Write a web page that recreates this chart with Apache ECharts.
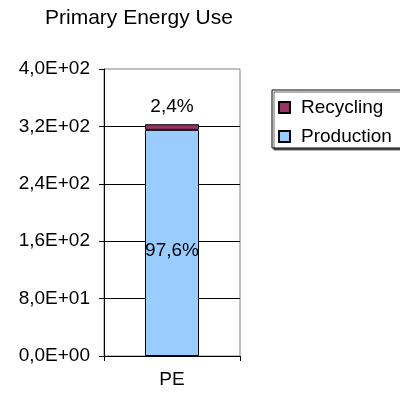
<!DOCTYPE html>
<html>
<head>
<meta charset="utf-8">
<script src="https://cdn.jsdelivr.net/npm/echarts@6/dist/echarts.min.js"></script>
<style>
  html, body { margin: 0; padding: 0; background: #fff; }
  #chart { width: 400px; height: 399px; }
</style>
</head>
<body>
<div id="chart"></div>
<script>
// Primary energy use of PE, split into production and recycling
const categories = ['PE'];
const production = [315.2];
const recycling = [7.8];
const yTickLabels = ['0,0E+00', '8,0E+01', '1,6E+02', '2,4E+02', '3,2E+02', '4,0E+02'];

const totals = production.map((v, i) => v + recycling[i]);
const pct = (v, i) => (v / totals[i] * 100).toFixed(1).replace('.', ',') + '%';

const FONT = "'Liberation Sans', Arial, sans-serif";
const chart = echarts.init(document.getElementById('chart'), null, { renderer: 'canvas' });

chart.setOption({
  animation: false,
  backgroundColor: '#ffffff',
  textStyle: { fontFamily: FONT, color: '#000' },
  title: {
    text: 'Primary Energy Use',
    left: 45,
    top: 8,
    padding: 0,
    textStyle: { fontFamily: FONT, fontSize: 21, fontWeight: 'normal', color: '#000' }
  },
  legend: {
    orient: 'vertical',
    left: 272,
    top: 90,
    data: ['Recycling', 'Production'],
    icon: 'rect',
    itemWidth: 11,
    itemHeight: 11,
    itemGap: 10,
    padding: [8, 12, 2, 6],
    borderColor: '#000',
    borderWidth: 1,
    backgroundColor: '#fff',
    shadowColor: 'rgba(0,0,0,0.6)',
    shadowOffsetX: 2,
    shadowOffsetY: 2,
    shadowBlur: 0,
    textStyle: { fontFamily: FONT, fontSize: 19, color: '#000', padding: [0, 0, 0, 6] }
  },
  grid: {
    left: 104,
    right: 160,
    top: 69,
    bottom: 43,
    show: true,
    borderColor: '#808080',
    borderWidth: 1,
    backgroundColor: 'transparent'
  },
  xAxis: {
    type: 'category',
    data: categories,
    boundaryGap: true,
    axisLine: { lineStyle: { color: '#000', width: 1 } },
    axisTick: { show: true, alignWithLabel: false, length: 5, lineStyle: { color: '#000' } },
    axisLabel: { fontFamily: FONT, fontSize: 19, color: '#000', margin: 14 }
  },
  yAxis: {
    type: 'value',
    min: 0,
    max: 400,
    interval: 80,
    axisLine: { show: true, lineStyle: { color: '#000', width: 1 } },
    axisTick: { show: true, length: 5, lineStyle: { color: '#000' } },
    axisLabel: {
      fontFamily: FONT, fontSize: 19, color: '#000', margin: 14,
      formatter: (value, index) => yTickLabels[index]
    },
    splitLine: { show: true, showMinLine: false, showMaxLine: false, lineStyle: { color: '#000', width: 1 } }
  },
  series: [
    {
      name: 'Production',
      type: 'bar',
      stack: 'total',
      barWidth: 54,
      data: production,
      itemStyle: { color: '#99CCFF', borderColor: '#000', borderWidth: 1 },
      label: {
        show: true,
        position: 'inside',
        offset: [0, 8],
        fontFamily: FONT,
        fontSize: 19,
        color: '#000',
        formatter: p => pct(p.value, p.dataIndex)
      }
    },
    {
      name: 'Recycling',
      type: 'bar',
      stack: 'total',
      barWidth: 54,
      data: recycling,
      itemStyle: { color: '#993366', borderColor: '#000', borderWidth: 1 },
      label: {
        show: true,
        position: 'top',
        distance: 8,
        fontFamily: FONT,
        fontSize: 19,
        color: '#000',
        formatter: p => pct(p.value, p.dataIndex)
      }
    }
  ]
});
</script>
</body>
</html>
